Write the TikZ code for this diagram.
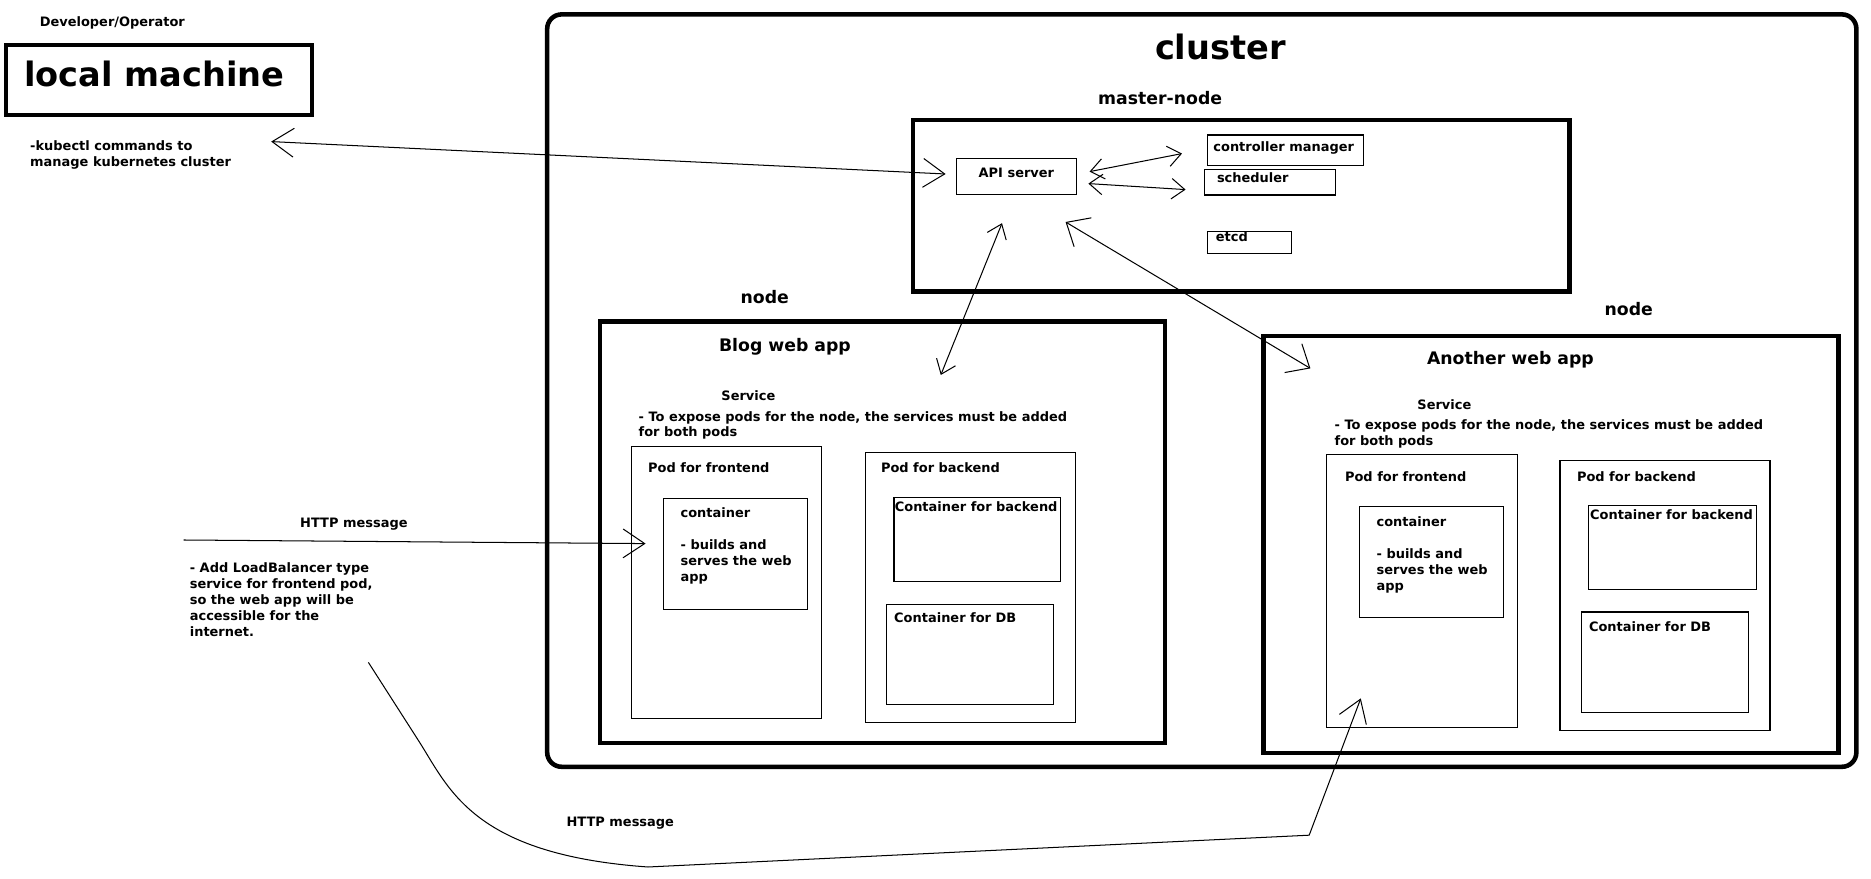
\documentclass[tikz,border=0pt]{standalone}
\usepackage{fontspec}
\setmainfont{DejaVu Sans}
\usetikzlibrary{arrows.meta}
\tikzset{
  smallhead/.tip={Straight Barb[length=11pt,width=17pt]},
  bighead/.tip={Straight Barb[length=18pt,width=24pt]},
  widehead/.tip={Straight Barb[length=16pt,width=28pt]}}
\begin{document}
\begin{tikzpicture}[x=1pt,y=1pt,
  thickbox/.style={draw, line width=3.8pt, inner sep=0pt, outer sep=0pt, anchor=north west},
  thinbox/.style={draw, line width=0.85pt, inner sep=0pt, outer sep=0pt, anchor=north west},
  txt/.style={anchor=base west, inner sep=0pt, font=\bfseries\fontsize{10.8}{13}\selectfont},
  hdr/.style={txt, font=\bfseries\fontsize{14.4}{17}\selectfont},
  big/.style={txt, font=\bfseries\fontsize{28}{32}\selectfont},
  conn/.style={line width=0.85pt}]
\fill[white] (0,0) rectangle (1559.2,-732.5);
\useasboundingbox (0,0) rectangle (1559.2,-732.5);

% local machine
\node[txt] (dev) at (33,-22) {Developer/Operator};
\node[thickbox, minimum width=255, minimum height=58.3] (lm) at (5,-37.5) {};
\node[big] (lmt) at (20,-71.7) {local machine};
\node[txt] (kub1) at (25,-125.6) {-kubectl commands to};
\node[txt] (kub2) at (25,-139) {manage kubernetes cluster};

% cluster
\node[thickbox, rounded corners=12pt, minimum width=1091, minimum height=627] (cl) at (456,-12) {};
\node[big, anchor=base] (clt) at (1017,-50) {cluster};

% master node
\node[hdr] (mnt) at (915,-86.7) {master-node};
\node[thickbox, minimum width=547, minimum height=143] (master) at (761,-100) {};
\node[thinbox, minimum width=100, minimum height=30] (api) at (797,-132) {};
\node[txt, anchor=base] (apit) at (847,-148) {API server};
\node[thinbox, minimum width=130, minimum height=25.5] (ctrl) at (1006,-112.5) {};
\node[txt] (ctrlt) at (1011,-126) {controller manager};
\node[thinbox, minimum width=109, minimum height=21.5] (sched) at (1004,-141) {};
\node[txt] (scht) at (1014,-152) {scheduler};
\node[thinbox, minimum width=70, minimum height=18] (etcd) at (1006,-193) {};
\node[txt] (etcdt) at (1013,-201.5) {etcd};

% blog node
\node[hdr] (nd1) at (617,-253) {node};
\node[thickbox, minimum width=471, minimum height=351] (blog) at (500,-268) {};
\node[hdr] (blogt) at (599,-293) {Blog web app};
\node[txt] (svc1) at (601,-334) {Service};
\node[txt] (exp1a) at (532,-351) {- To expose pods for the node, the services must be added};
\node[txt] (exp1b) at (532,-364) {for both pods};
\node[thinbox, minimum width=158.6, minimum height=227] (podF1) at (526,-372) {};
\node[txt] (pf1) at (540,-394) {Pod for frontend};
\node[thinbox, minimum width=120, minimum height=92.2] (cont1) at (553,-415.6) {};
\node[txt] (c1a) at (567,-431) {container};
\node[txt] (c1b) at (567,-457.6) {- builds and};
\node[txt] (c1c) at (567,-471) {serves the web};
\node[txt] (c1d) at (567,-484.4) {app};
\node[thinbox, minimum width=175, minimum height=225] (podB1) at (721,-377) {};
\node[txt] (pb1) at (734,-394) {Pod for backend};
\node[thinbox, minimum width=139, minimum height=70] (cb1) at (745,-414.4) {};
\node[txt] (cb1t) at (745.5,-426) {Container for backend};
\node[thinbox, minimum width=139, minimum height=83.4] (cdb1) at (739,-503.6) {};
\node[txt] (cdb1t) at (745,-519) {Container for DB};

% another node
\node[hdr] (nd2) at (1337,-263) {node};
\node[thickbox, minimum width=479, minimum height=347.5] (node2) at (1053,-280) {};
\node[hdr] (awt) at (1189,-304) {Another web app};
\node[txt] (svc2) at (1181,-341) {Service};
\node[txt] (exp2a) at (1112,-358) {- To expose pods for the node, the services must be added};
\node[txt] (exp2b) at (1112,-371.4) {for both pods};
\node[thinbox, minimum width=159, minimum height=227] (podF2) at (1105.4,-379) {};
\node[txt] (pf2) at (1120.7,-401) {Pod for frontend};
\node[thinbox, minimum width=120, minimum height=92.7] (cont2) at (1133,-422) {};
\node[txt] (c2a) at (1147,-438.6) {container};
\node[txt] (c2b) at (1147,-465.2) {- builds and};
\node[txt] (c2c) at (1147,-478.6) {serves the web};
\node[txt] (c2d) at (1147,-492) {app};
\node[thinbox, minimum width=175, minimum height=225] (podB2) at (1300,-383.6) {};
\node[txt] (pb2) at (1314,-401) {Pod for backend};
\node[thinbox, minimum width=139.7, minimum height=70] (cb2) at (1324,-421) {};
\node[txt] (cb2t) at (1325,-433) {Container for backend};
\node[thinbox, minimum width=139, minimum height=84] (cdb2) at (1318,-510) {};
\node[txt] (cdb2t) at (1324,-526.4) {Container for DB};

% left texts
\node[txt] (http1) at (250,-439.7) {HTTP message};
\node[txt] (lb1) at (158,-477) {- Add LoadBalancer type};
\node[txt] (lb2) at (158,-490.3) {service for frontend pod,};
\node[txt] (lb3) at (158,-503.6) {so the web app will be};
\node[txt] (lb4) at (158,-517) {accessible for the};
\node[txt] (lb5) at (158,-530.3) {internet.};
\node[txt] (http2) at (472,-689) {HTTP message};

% connector end points
\coordinate (kL) at (226,-118);
\coordinate (kR) at (788,-145);
\coordinate (a1) at (908,-143);
\coordinate (c1) at (985,-128);
\coordinate (a2) at (907,-153);
\coordinate (s2) at (988,-158);
\coordinate (a3) at (835,-186);
\coordinate (b3) at (784,-312.5);
\coordinate (a4) at (888,-185);
\coordinate (n4) at (1092,-307);
\coordinate (h1s) at (153,-450);
\coordinate (h1t) at (538,-453);
\coordinate (h2s) at (307,-552);
\coordinate (h2a) at (348,-616);
\coordinate (h2b) at (540,-722.5);
\coordinate (h2c) at (1091,-696);
\coordinate (h2t) at (1134,-582);

% connectors
\draw[conn, {bighead}-{bighead}] (kL) -- (kR);
\draw[conn, {smallhead}-{smallhead}] (a1) -- (c1);
\draw[conn, {smallhead}-{smallhead}] (a2) -- (s2);
\draw[conn, {smallhead}-{smallhead}] (a3) -- (b3);
\draw[conn, {widehead}-{widehead}] (a4) -- (n4);
\draw[conn, -{bighead}] (h1s) -- (h1t);
\draw[conn, -{bighead}] (h2s) -- (h2a) .. controls (374,-656) and (392,-712) .. (h2b) -- (h2c) -- (h2t);
\end{tikzpicture}
\end{document}
